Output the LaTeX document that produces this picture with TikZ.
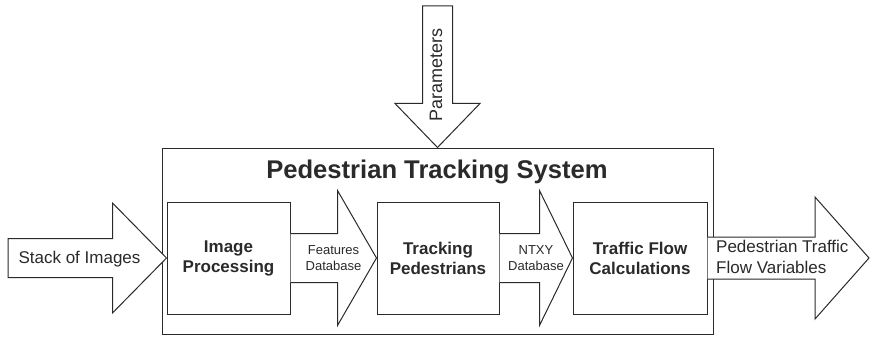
\documentclass[tikz,border=0pt]{standalone}
\usepackage{fontspec}
\setmainfont{Liberation Sans}
\usetikzlibrary{calc}
\definecolor{ink}{HTML}{2A2A2A}
\begin{document}
\begin{tikzpicture}[x=1pt,y=-1pt,
  blk/.style={draw=ink, fill=white, line width=1pt, line join=miter},
  box/.style={draw=ink, line width=1pt, inner sep=0pt},
  bt/.style={font=\fontsize{17}{20}\selectfont\bfseries, text=ink, align=center, inner sep=0pt},
  rt/.style={font=\fontsize{17}{21}\selectfont, text=ink, align=center, inner sep=0pt},
  st/.style={font=\fontsize{13}{16}\selectfont, text=ink, align=center, inner sep=0pt}]
\useasboundingbox (0,0) rectangle (871,337);
% outer system box
\node[box, minimum width=551pt, minimum height=186pt] (sys) at (437.5,241) {};
\node[font=\fontsize{25.6}{30}\selectfont\bfseries, text=ink, anchor=base, inner sep=0pt] (title) at (437,178) {Pedestrian Tracking System};
% inner boxes
\node[box, minimum width=123pt, minimum height=112pt] (ip) at (228.5,258) {};
\node[box, minimum width=122pt, minimum height=112pt] (tp) at (438,258) {};
\node[box, minimum width=134pt, minimum height=112pt] (tf) at (640,258) {};
% free ends
\coordinate (inS) at (8,258);
\coordinate (outT) at (869,258);
\coordinate (parS) at (437.5,6);
% input arrow
\draw[blk] ($(inS)+(0,-19.5)$) -- ($(ip.west)+(-54,-19.5)$) -- ($(ip.west)+(-54,-55)$) -- (ip.west)
  -- ($(ip.west)+(-54,55)$) -- ($(ip.west)+(-54,19.5)$) -- ($(inS)+(0,19.5)$) -- cycle;
% features arrow
\draw[blk] ($(ip.east)+(0,-24.5)$) -- ($(tp.west)+(-39,-24.5)$) -- ($(tp.west)+(-39,-67.5)$) -- (tp.west)
  -- ($(tp.west)+(-39,67.5)$) -- ($(tp.west)+(-39,24.5)$) -- ($(ip.east)+(0,24.5)$);
% NTXY arrow
\draw[blk] ($(tp.east)+(0,-24.5)$) -- ($(tf.west)+(-33,-24.5)$) -- ($(tf.west)+(-33,-67.5)$) -- (tf.west)
  -- ($(tf.west)+(-33,67.5)$) -- ($(tf.west)+(-33,24.5)$) -- ($(tp.east)+(0,24.5)$);
% output arrow
\draw[blk] ($(tf.east)+(0,-21)$) -- ($(outT)+(-54,-21)$) -- ($(outT)+(-54,-61)$) -- (outT)
  -- ($(outT)+(-54,61)$) -- ($(outT)+(-54,21)$) -- ($(tf.east)+(0,21)$);
% parameters arrow
\draw[blk] ($(parS)+(-15,0)$) -- ($(sys.north)+(-15,-44)$) -- ($(sys.north)+(-42.5,-44)$) -- (sys.north)
  -- ($(sys.north)+(42.5,-44)$) -- ($(sys.north)+(15,-44)$) -- ($(parS)+(15,0)$) -- cycle;
% labels
\node[bt] (lip) at (ip) {Image\\Processing};
\node[bt] (ltp) at (tp) {Tracking\\Pedestrians};
\node[bt] (ltf) at (tf) {Traffic Flow\\Calculations};
\node[rt] (lstack) at (79.5,259) {Stack of Images};
\node[st] (lfeat) at (333.5,258) {Features\\Database};
\node[st] (lntxy) at (536,258) {NTXY\\Database};
\node[rt, align=left, anchor=west] (lout) at (716,257) {Pedestrian Traffic\\Flow Variables};
\node[font=\fontsize{18}{21}\selectfont, text=ink, inner sep=0pt, rotate=90] (lpar) at (436,75) {Parameters};
\end{tikzpicture}
\end{document}
